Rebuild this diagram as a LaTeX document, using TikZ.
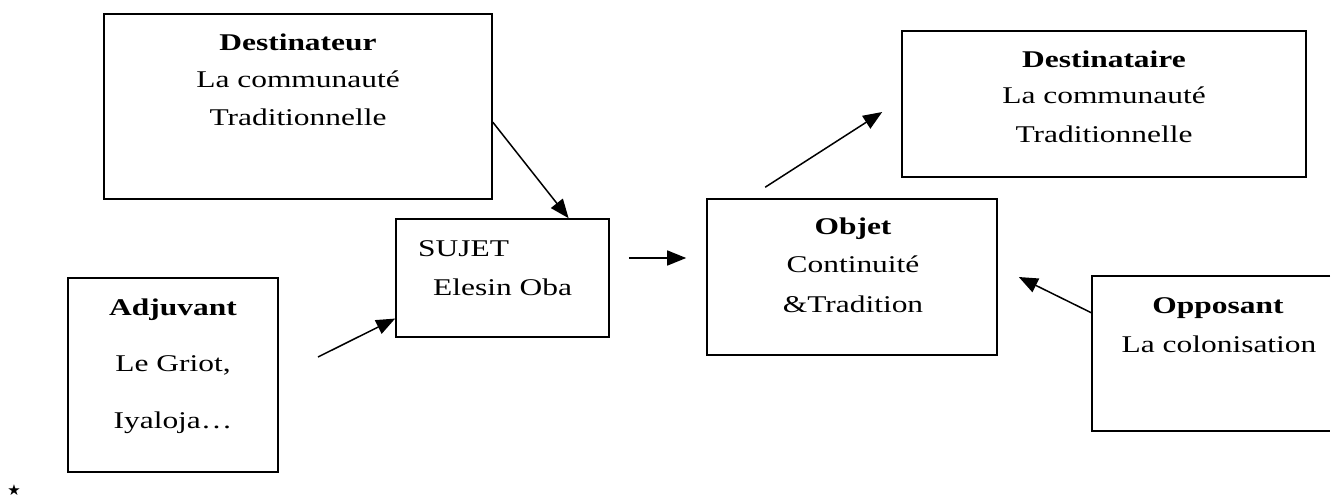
\documentclass[tikz,border=0pt]{standalone}
\usepackage{fontspec}
\usepackage{graphicx}
\setmainfont{Liberation Serif}
\newfontfamily\symfont{DejaVu Sans}
\usetikzlibrary{arrows.meta,calc}

% wide, slightly condensed-height typesetting of the labels
\newcommand\wtxt[1]{\scalebox{1.31}[1]{#1}}
\newcommand\htxt[1]{\scalebox{1.31}[1]{\bfseries #1}}

\tikzset{
  box/.style={draw, line width=1.6pt, rectangle, inner sep=0pt},
  frame/.style={rectangle, inner sep=0pt},
  lbl/.style={inner sep=0pt, anchor=base, font=\fontsize{24}{28}\selectfont},
  arr/.style={line width=1.5pt, -{Triangle[length=19pt,width=15pt]}},
}

\begin{document}
\begin{tikzpicture}[x=1pt, y=-1pt]
  \useasboundingbox[fill=white] (0,0) rectangle (1338,499);

  % actant boxes
  \node[box, minimum width=388pt, minimum height=185pt] (dtr) at (298,106.5) {};
  \node[box, minimum width=213pt, minimum height=118pt] (suj) at (502.5,278) {};
  \node[box, minimum width=210pt, minimum height=194pt] (adj) at (173,375) {};
  \node[box, minimum width=290pt, minimum height=156pt] (obj) at (852,277) {};
  \node[box, minimum width=404pt, minimum height=146pt] (dst) at (1104,104) {};
  \node[frame, minimum width=238pt, minimum height=155pt] (opp) at (1211,353.5) {};
  \draw[line width=1.6pt] (opp.north east) -- (opp.north west)
       -- (opp.south west) -- (opp.south east);

  % Destinateur
  \node[lbl] (dtr1) at (298,50)  {\htxt{Destinateur}};
  \node[lbl] (dtr2) at (298,87)  {\wtxt{La communauté}};
  \node[lbl] (dtr3) at (298,125) {\wtxt{Traditionnelle}};

  % Sujet
  \node[lbl, anchor=base west] (suj1) at (418,256) {\wtxt{SUJET}};
  \node[lbl, anchor=base west] (suj2) at (433,295) {\wtxt{Elesin Oba}};

  % Adjuvant
  \node[lbl] (adj1) at (173,315) {\htxt{Adjuvant}};
  \node[lbl] (adj2) at (173,371) {\wtxt{Le Griot,}};
  \node[lbl] (adj3) at (173,428) {\wtxt{Iyaloja\ldots}};

  % Objet
  \node[lbl] (obj1) at (853,234) {\htxt{Objet}};
  \node[lbl] (obj2) at (853,272) {\wtxt{Continuité}};
  \node[lbl] (obj3) at (853,312) {\wtxt{\&Tradition}};

  % Destinataire
  \node[lbl] (dst1) at (1104,67)  {\htxt{Destinataire}};
  \node[lbl] (dst2) at (1104,103) {\wtxt{La communauté}};
  \node[lbl] (dst3) at (1104,142) {\wtxt{Traditionnelle}};

  % Opposant
  \node[lbl] (opp1) at (1218,313) {\htxt{Opposant}};
  \node[lbl] (opp2) at (1219,352) {\wtxt{La colonisation}};

  % footnote mark
  \node[inner sep=0pt, font=\symfont\fontsize{15}{15}\selectfont] (mark) at (14,490) {★};

  % connectors
  \draw[arr] ($(dtr.north east)!0.584!(dtr.south east)$)
          -- ($(suj.north west)!0.808!(suj.north east)$);
  \coordinate (adjout) at (318,357);
  \draw[arr] (adjout) -- ($(suj.north west)!0.839!(suj.south west)$);
  \draw[arr] ($(suj.east)+(19,-20)$) -- ($(obj.west)+(-20,-19)$);
  \draw[arr] ($(obj.north west)+(59,-11)$) -- ($(dst.west)+(-19,8)$);
  \draw[arr] ($(opp.west)+(0,-40.5)$) -- ($(obj.east)+(21,0)$);
\end{tikzpicture}
\end{document}
